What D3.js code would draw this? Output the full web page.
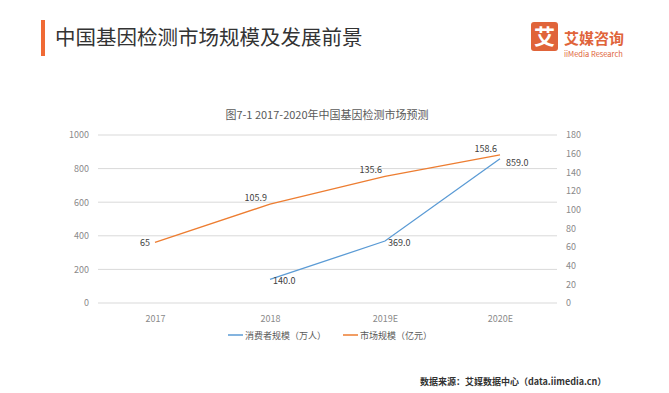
<!DOCTYPE html>
<meta charset="utf-8">
<style>
body { margin: 0; background: #fff; overflow: hidden; }
text { font-family: "Noto Sans CJK SC", "Noto Sans", sans-serif; }
.tick text { fill: #8a8a8a; font-size: 9px; }
.grid line { stroke: #d9d9d9; }
</style>
<body>
<script src="https://cdn.jsdelivr.net/npm/d3@7"></script>
<script>
var years = ["2017", "2018", "2019E", "2020E"];
var consumers = [null, 140.0, 369.0, 859.0];   // 消费者规模（万人）
var market = [65, 105.9, 135.6, 158.6];         // 市场规模（亿元）
var consumerLabels = ["", "140.0", "369.0", "859.0"];
var marketLabels = ["65", "105.9", "135.6", "158.6"];
var leftTicks = [0, 200, 400, 600, 800, 1000];
var rightTicks = [0, 20, 40, 60, 80, 100, 120, 140, 160, 180];

var width = 669, height = 393;
var svg = d3.select("body").append("svg")
    .attr("width", width)
    .attr("height", height);

// header
svg.append("rect").attr("x", 41).attr("y", 20).attr("width", 4).attr("height", 36).attr("fill", "#f06a35");
svg.append("text").attr("x", 55).attr("y", 45)
    .attr("font-size", 20.5).attr("fill", "#333")
    .text("中国基因检测市场规模及发展前景");

// logo
svg.append("rect").attr("x", 531).attr("y", 22).attr("width", 27).attr("height", 29).attr("rx", 3).attr("fill", "#e0643a");
svg.append("text").attr("x", 544.5).attr("y", 44).attr("text-anchor", "middle")
    .attr("font-size", 21).attr("font-weight", "bold").attr("fill", "#fff").text("艾");
svg.append("text").attr("x", 564).attr("y", 44)
    .attr("font-size", 15).attr("font-weight", "bold").attr("fill", "#e0643a").text("艾媒咨询");
svg.append("text").attr("x", 564).attr("y", 57)
    .attr("font-size", 7.5).attr("fill", "#e0643a").text("iiMedia Research");

// chart title
svg.append("text").attr("x", 327).attr("y", 119).attr("text-anchor", "middle")
    .attr("font-size", 11).attr("fill", "#595959")
    .text("图7-1 2017-2020年中国基因检测市场预测");

var x = d3.scalePoint().domain(years).range([155, 500]);
var yL = d3.scaleLinear().domain([0, 1000]).range([303, 135]);
var yR = d3.scaleLinear().domain([0, 180]).range([303, 135]);

svg.append("g").attr("class", "grid")
  .selectAll("line").data(leftTicks).join("line")
    .attr("x1", 98).attr("x2", 557)
    .attr("y1", function(d) { return yL(d); })
    .attr("y2", function(d) { return yL(d); });

var axL = svg.append("g").attr("transform", "translate(93,0)")
    .call(d3.axisLeft(yL).tickValues(leftTicks).tickFormat(d3.format("d")).tickSize(0).tickPadding(4));
axL.select(".domain").remove();

var axR = svg.append("g").attr("transform", "translate(563,0)")
    .call(d3.axisRight(yR).tickValues(rightTicks).tickFormat(d3.format("d")).tickSize(0).tickPadding(3));
axR.select(".domain").remove();

var axB = svg.append("g").attr("transform", "translate(0,316)")
    .call(d3.axisBottom(x).tickSize(0).tickPadding(0));
axB.select(".domain").remove();

var lineM = d3.line()
    .x(function(d, i) { return x(years[i]); })
    .y(function(d) { return yR(d); });
var lineC = d3.line()
    .defined(function(d) { return d != null; })
    .x(function(d, i) { return x(years[i]); })
    .y(function(d) { return yL(d); });

svg.append("path").datum(market).attr("d", lineM)
    .attr("fill", "none").attr("stroke", "#ed7d31").attr("stroke-width", 1.3);
svg.append("path").datum(consumers).attr("d", lineC)
    .attr("fill", "none").attr("stroke", "#5b9bd5").attr("stroke-width", 1.3);

// data labels
svg.append("g").selectAll("text").data(market).join("text")
    .attr("x", function(d, i) { return x(years[i]) - (i === 0 ? 5 : 3); })
    .attr("y", function(d, i) { return yR(d) + (i === 0 ? 4 : -3); })
    .attr("text-anchor", "end")
    .attr("font-size", 9).attr("fill", "#404040")
    .text(function(d, i) { return marketLabels[i]; });

svg.append("g").selectAll("text").data(consumers).join("text")
    .attr("x", function(d, i) { return x(years[i]) + (i === 3 ? 6 : 3); })
    .attr("y", function(d, i) { return d == null ? 0 : yL(d) + (i === 3 ? 7 : 5); })
    .attr("font-size", 9).attr("fill", "#404040")
    .text(function(d, i) { return consumerLabels[i]; });

// legend
var legend = [
  { name: "消费者规模（万人）", color: "#5b9bd5", x: 228 },
  { name: "市场规模（亿元）", color: "#ed7d31", x: 343 }
];
var lg = svg.append("g").selectAll("g").data(legend).join("g")
    .attr("transform", function(d) { return "translate(" + d.x + ",335)"; });
lg.append("line").attr("x1", 0).attr("x2", 15)
    .attr("stroke", function(d) { return d.color; }).attr("stroke-width", 1.5);
lg.append("text").attr("x", 17).attr("y", 3.5)
    .attr("font-size", 9).attr("fill", "#595959")
    .text(function(d) { return d.name; });

// source
svg.append("text").attr("x", 420).attr("y", 385)
    .attr("font-size", 9).attr("fill", "#333").attr("font-weight", "bold")
    .text("数据来源：艾媒数据中心（data.iimedia.cn）");
</script>
